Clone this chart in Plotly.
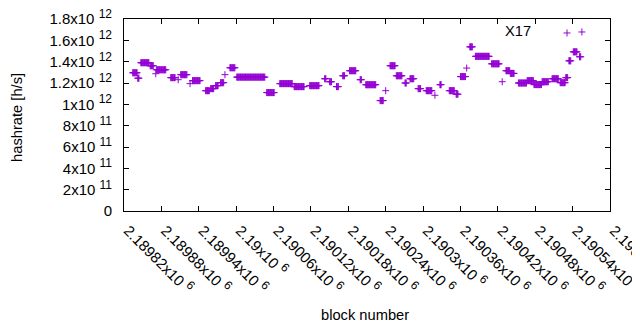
import numpy as np
import plotly.graph_objects as go

# ---- data: runs of blocks with (nearly) constant hashrate ----
BASE = 2189820
run_start = [14, 22, 27, 42, 51, 52, 75, 87, 91, 106, 110, 131, 139, 147, 155, 162,
             170, 181, 229, 250, 273, 298, 322, 330, 341, 351, 362, 379, 388, 411,
             420, 427, 437, 451, 459, 472, 485, 499, 507, 522, 533, 540, 550, 555,
             564, 590, 607, 613, 620, 633, 647, 658, 671, 687, 700, 709, 711, 714,
             721, 731]
run_end = [21, 24, 40, 47, 51, 67, 82, 87, 101, 106, 122, 137, 144, 151, 160, 162,
           178, 226, 241, 270, 289, 313, 324, 333, 344, 354, 372, 381, 404, 416,
           420, 435, 446, 453, 465, 476, 494, 499, 509, 530, 536, 548, 550, 559,
           586, 602, 607, 619, 626, 646, 657, 670, 681, 697, 708, 712, 711, 717,
           727, 733]
run_value = [1.296, 1.245, 1.39, 1.362, 1.287, 1.324, 1.25, 1.231, 1.278, 1.194,
             1.222, 1.128, 1.147, 1.175, 1.203, 1.278, 1.343, 1.255, 1.11, 1.194,
             1.166, 1.175, 1.24, 1.212, 1.166, 1.268, 1.315, 1.231, 1.184, 1.035,
             1.128, 1.362, 1.268, 1.2, 1.24, 1.147, 1.128, 1.085, 1.184, 1.128,
             1.095, 1.26, 1.34, 1.539, 1.45, 1.38, 1.212, 1.315, 1.29, 1.2,
             1.222, 1.185, 1.212, 1.24, 1.203, 1.25, 1.669, 1.408, 1.492, 1.446]

x_tickvals = [2189820 + 60 * i for i in range(14)]
x_ticktext = ["2.18982", "2.18988", "2.18994", "2.19", "2.19006", "2.19012",
              "2.19018", "2.19024", "2.1903", "2.19036", "2.19042", "2.19048",
              "2.19054", "2.1906"]
y_tickvals = [0, 2e11, 4e11, 6e11, 8e11, 1e12, 1.2e12, 1.4e12, 1.6e12, 1.8e12]
y_mant = ["0", "2", "4", "6", "8", "1", "1.2", "1.4", "1.6", "1.8"]
y_exp = ["", "11", "11", "11", "11", "12", "12", "12", "12", "12"]

# expand runs into per-block points
xs, ys = [], []
for s, e, v in zip(run_start, run_end, run_value):
    for b in range(s, e + 1):
        xs.append(BASE + b)
        ys.append(v * 1e12)

PURPLE = "#9400D3"
FONT = "Liberation Sans, Arial, sans-serif"
SUP = '<sup><span style="font-size:12px">%s</span></sup>'

def fmt(m, ex):
    if not ex:
        return m
    return m + "x10 " + SUP % ex

fig = go.Figure()
fig.add_trace(go.Scatter(
    x=xs, y=ys, mode="markers", name=" ",
    marker=dict(symbol="cross-thin", size=5, color=PURPLE,
                line=dict(width=1, color=PURPLE)),
    showlegend=True,
))

# the page body adds an 8px offset, margins compensate for it
fig.update_layout(
    template="none",
    width=640, height=330,
    margin=dict(l=116, r=38, t=11, b=127, autoexpand=False),
    paper_bgcolor="white", plot_bgcolor="white",
    font=dict(family=FONT, size=14.7, color="black"),
    showlegend=True,
    legend=dict(x=0.901, xanchor="left", y=1.016, yanchor="top",
                bgcolor="rgba(0,0,0,0)", font=dict(size=14.7)),
    xaxis=dict(
        range=[2189820, 2190600], showgrid=False, zeroline=False,
        showline=True, linecolor="black", linewidth=1, mirror="ticks",
        ticks="inside", ticklen=5, tickcolor="black",
        tickvals=x_tickvals,
        ticktext=[fmt(t, "6") for t in x_ticktext],
        tickfont=dict(size=15),
        tickangle=45, automargin=False, ticklabelstandoff=4,
        ticklabelshift=4, ticklabeloverflow="allow",
    ),
    yaxis=dict(
        range=[0, 1.8e12], showgrid=False, zeroline=False,
        showline=True, linecolor="black", linewidth=1, mirror="ticks",
        ticks="inside", ticklen=5, tickcolor="black",
        tickvals=y_tickvals,
        ticktext=[fmt(m, e) for m, e in zip(y_mant, y_exp)],
        tickfont=dict(size=15),
        automargin=False, ticklabelstandoff=8, ticklabeloverflow="allow",
    ),
    annotations=[
        dict(text="hashrate [h/s]", xref="paper", yref="paper",
             x=-0.2202, y=0.49, textangle=-90, showarrow=False,
             xanchor="center", yanchor="middle", font=dict(size=14.7)),
        dict(text="block number", xref="paper", yref="paper",
             x=0.4949, y=-0.5417, showarrow=False,
             xanchor="center", yanchor="middle", font=dict(size=14.7)),
        dict(text="X17", xref="paper", yref="paper",
             x=0.8416, y=0.9375, showarrow=False,
             xanchor="right", yanchor="middle", font=dict(size=14.7)),
    ],
)

fig.write_html("out.html")
